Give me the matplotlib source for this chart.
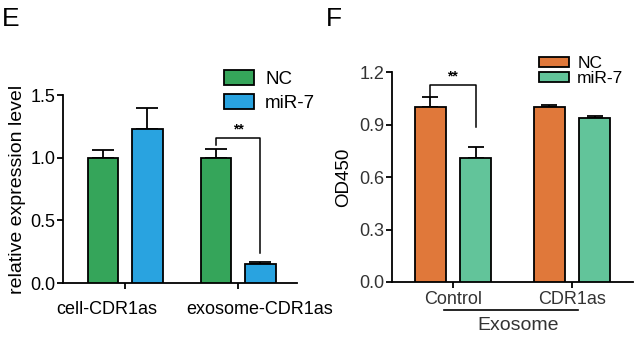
import matplotlib.pyplot as plt
import numpy as np

plt.rcParams['font.family'] = ['Liberation Sans', 'DejaVu Sans']

# panel E data
groupsE = ['cell-CDR1as', 'exosome-CDR1as']
ncE = [1.0, 1.0]
ncErrE = [0.06, 0.07]
mirE = [1.23, 0.15]
mirErrE = [0.17, 0.02]

# panel F data
groupsF = ['Control', 'CDR1as']
ncF = [1.0, 1.0]
ncErrF = [0.06, 0.01]
mirF = [0.71, 0.94]
mirErrF = [0.06, 0.01]

greenE, blueE = '#35a55a', '#29a3e0'
orangeF, greenF = '#e0783a', '#62c49a'

fig = plt.figure(figsize=(6.4, 3.38), dpi=100)
W, H = 640, 338


def addAxes(left, right, top, bottom):
    return fig.add_axes([left / W, 1 - bottom / H, (right - left) / W, (bottom - top) / H])


def styleAxes(ax, labelColor, pad):
    for side in ['top', 'right']:
        ax.spines[side].set_visible(False)
    for side in ['left', 'bottom']:
        ax.spines[side].set_linewidth(1.3)
    ax.tick_params(axis='both', direction='out', width=1.3, length=4, labelsize=13, labelcolor=labelColor)
    ax.tick_params(axis='y', pad=1.5)
    ax.tick_params(axis='x', pad=pad)


def drawBars(ax, nc, ncErr, mir, mirErr, colors, off, width, capsize):
    x = np.arange(len(nc))
    ax.bar(x - off, nc, width, color=colors[0], edgecolor='black', linewidth=1.3, label='NC', zorder=3)
    ax.bar(x + off, mir, width, color=colors[1], edgecolor='black', linewidth=1.3, label='miR-7', zorder=3)
    ax.errorbar(x - off, nc, yerr=[np.zeros(len(nc)), ncErr], fmt='none', ecolor='black',
                elinewidth=1.3, capsize=capsize, capthick=1.3, zorder=2)
    ax.errorbar(x + off, mir, yerr=[np.zeros(len(mir)), mirErr], fmt='none', ecolor='black',
                elinewidth=1.3, capsize=capsize, capthick=1.3, zorder=2)
    return x


# ---- panel E ----
axE = addAxes(63, 297, 95, 283)
x = drawBars(axE, ncE, ncErrE, mirE, mirErrE, [greenE, blueE], 0.196, 0.27, 8)
axE.set_xlim(-0.55, 1.52)
axE.set_ylim(0, 1.5)
axE.set_yticks([0.0, 0.5, 1.0, 1.5])
axE.set_yticklabels(['0.0', '0.5', '1.0', '1.5'])
axE.set_xticks(x)
axE.set_xticklabels(['', ''])
styleAxes(axE, 'black', 9)
# category labels sit a little left of their ticks in the original
for xPos, label in zip([-0.16, 1.19], groupsE):
    axE.text(xPos, -0.095, label, ha='center', va='top', fontsize=13,
             transform=axE.get_xaxis_transform())
axE.set_ylabel('relative expression level', fontsize=14, labelpad=3)
axE.plot([1 - 0.196, 1 - 0.196, 1 + 0.196, 1 + 0.196], [1.1, 1.16, 1.16, 0.24],
         color='black', linewidth=1.1, clip_on=False)
axE.text(1.0, 1.17, '**', ha='center', va='bottom', fontsize=10, fontweight='bold')
axE.legend(loc='upper left', bbox_to_anchor=(224 / W, 1 - 70 / H), bbox_transform=fig.transFigure,
           frameon=False, fontsize=13.5, handlelength=1.6, handleheight=0.85, handletextpad=0.6,
           labelspacing=0.3, borderaxespad=0, borderpad=0)
fig.text(2 / W, 1 - 19 / H, 'E', fontsize=19, va='center', ha='left')

# ---- panel F ----
axF = addAxes(392, 633, 72, 282)
x = drawBars(axF, ncF, ncErrF, mirF, mirErrF, [orangeF, greenF], 0.19, 0.26, 6)
axF.set_xlim(-0.51, 1.51)
axF.set_ylim(0, 1.2)
axF.set_yticks([0.0, 0.3, 0.6, 0.9, 1.2])
axF.set_yticklabels(['0.0', '0.3', '0.6', '0.9', '1.2'])
axF.set_xticks(x)
axF.set_xticklabels(groupsF, fontsize=14)
styleAxes(axF, '#333333', 2.5)
axF.set_ylabel('OD450', fontsize=13.5, labelpad=5)
axF.plot([-0.19, -0.19, 0.19, 0.19], [1.06, 1.126, 1.126, 0.886],
         color='black', linewidth=1.1, clip_on=False)
axF.text(0.0, 1.135, '**', ha='center', va='bottom', fontsize=10, fontweight='bold')
axF.plot([-0.07, 1.05], [-0.133, -0.133], color='black', linewidth=1.2,
         transform=axF.get_xaxis_transform(), clip_on=False)
axF.text(0.546, -0.205, 'Exosome', ha='center', va='center', fontsize=14, color='#333333',
         transform=axF.get_xaxis_transform())
axF.legend(loc='upper left', bbox_to_anchor=(539 / W, 1 - 56 / H), bbox_transform=fig.transFigure,
           frameon=False, fontsize=12.5, handlelength=1.7, handleheight=0.55, handletextpad=0.5,
           labelspacing=0.0, borderaxespad=0, borderpad=0)
fig.text(326 / W, 1 - 19 / H, 'F', fontsize=19, va='center', ha='left')

fig.savefig('out.png', dpi=100)
